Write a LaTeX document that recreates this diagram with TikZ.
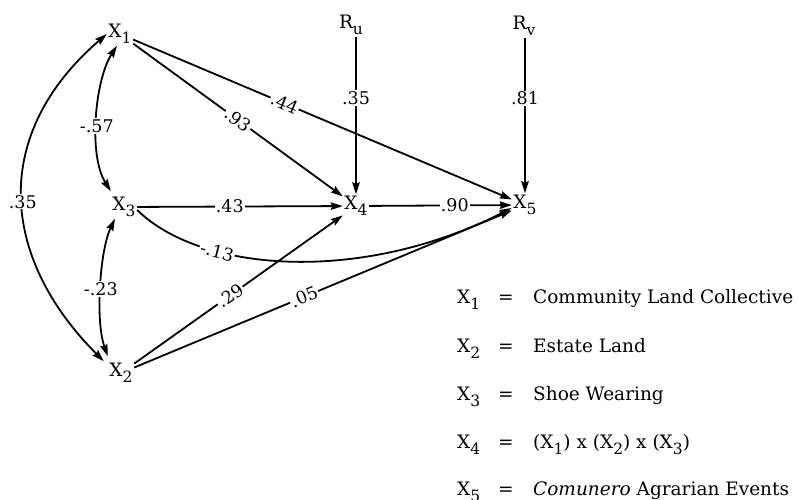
\documentclass[tikz,border=0pt]{standalone}
\usepackage{fontspec}
\setmainfont{DejaVu Serif}
\usetikzlibrary{arrows.meta}
\newcommand{\mysub}[1]{\raisebox{-6.5pt}{\fontsize{15.5}{15.5}\selectfont #1}}
\begin{document}
\begin{tikzpicture}[x=1pt,y=-1pt,
  var/.style={inner sep=1.5pt, font=\fontsize{18.5}{18.5}\selectfont},
  lbl/.style={fill=white, inner sep=1.2pt, font=\fontsize{17.5}{17.5}\selectfont},
  tip/.tip={Stealth[length=12pt,width=7.5pt,inset=1.5pt]},
  arr/.style={line width=1.8pt, -tip},
  darr/.style={line width=1.8pt, tip-tip},
  leg/.style={anchor=base west, inner sep=0pt, font=\fontsize{18.5}{18.5}\selectfont}]
\useasboundingbox (0,0) rectangle (800,500);
% variables
\node[var] (X1) at (120,34) {X\mysub{1}};
\node[var] (X3) at (124,207) {X\mysub{3}};
\node[var] (X2) at (121,373) {X\mysub{2}};
\node[var] (X4) at (356,206) {X\mysub{4}};
\node[var] (X5) at (525,205) {X\mysub{5}};
\node[var] (Ru) at (351,25) {R\mysub{u}};
\node[var] (Rv) at (524,26) {R\mysub{v}};
% paths
\draw[arr] (X1) -- node[lbl,pos=0.5,sloped]{.93} (X4);
\draw[arr] (X1) -- node[lbl,pos=0.4,sloped]{.44} (X5);
\draw[arr] (X3) -- node[lbl,pos=0.45]{.43} (X4);
\draw[arr] (X4) -- node[lbl,pos=0.6]{.90} (X5);
\draw[arr] (X2) -- node[lbl,pos=0.46,sloped]{.29} (X4);
\draw[arr] (X2) -- node[lbl,pos=0.45,sloped]{.05} (X5);
\draw[arr] (X4.north |- Ru.south) -- node[lbl,pos=0.39]{.35} (X4.north);
\draw[arr] (X5.north |- Rv.south) -- node[lbl,pos=0.39]{.81} (X5.north);
\draw[arr] ([yshift=-3pt]X3.east) .. controls (200,272) and (360,285) .. ([yshift=-3pt]X5.west) node[lbl,pos=0.3,sloped]{-.13};
% correlations
\draw[darr] ([xshift=-3pt]X1.south) .. controls (95,80) and (88,155) .. ([yshift=4pt]X3.north west) node[lbl,pos=0.55]{-.57};
\draw[darr] ([xshift=-9pt]X3.south) .. controls (100,250) and (95,320) .. ([yshift=5pt]X2.north west) node[lbl,pos=0.52]{-.23};
\draw[darr] (X1.west) .. controls (-8,133) and (-2,255) .. ([xshift=-4pt]X2.north west) node[lbl,pos=0.52]{.35};
% legend
\node[leg] (L1x) at (457,303) {X\mysub{1}};
\node[leg] (L1e) at (498,303) {=};
\node[leg] (L1t) at (533,303) {Community Land Collective};
\node[leg] (L2x) at (457,352) {X\mysub{2}};
\node[leg] (L2e) at (498,352) {=};
\node[leg] (L2t) at (533,352) {Estate Land};
\node[leg] (L3x) at (457,400) {X\mysub{3}};
\node[leg] (L3e) at (498,400) {=};
\node[leg] (L3t) at (533,400) {Shoe Wearing};
\node[leg] (L4x) at (457,448) {X\mysub{4}};
\node[leg] (L4e) at (498,448) {=};
\node[leg] (L4t) at (533,448) {(X\mysub{1}) x (X\mysub{2}) x (X\mysub{3})};
\node[leg] (L5x) at (457,495) {X\mysub{5}};
\node[leg] (L5e) at (498,495) {=};
\node[leg] (L5t) at (533,495) {\textit{Comunero} Agrarian Events};
\end{tikzpicture}
\end{document}
